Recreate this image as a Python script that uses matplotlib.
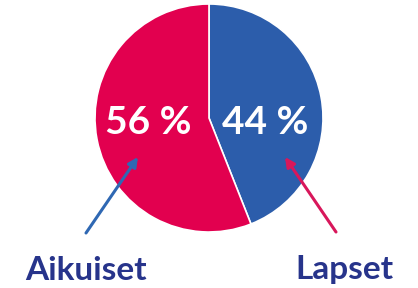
import matplotlib.pyplot as plt

# ─── DATA ────────────────────────────────────────────────────────────────────
labels  = ["Lapset", "Aikuiset"]
shares  = [44, 56]
colors  = ["#2C5DAB", "#E2004F"]
arrow_c = ["#D8175B", "#2F68B3"]

plt.rcParams["font.family"] = ["Lato", "DejaVu Sans"]

fig = plt.figure(figsize=(4.18, 2.88), dpi=100)
ax = fig.add_axes([0, 0, 1, 1])
ax.set_xlim(0, 418)
ax.set_ylim(0, 288)
ax.set_aspect("equal")
ax.axis("off")

# pie in pixel coords (y measured from bottom)
cx, cy, r = 209, 170, 114
ax.pie(shares, colors=colors, startangle=90, counterclock=False,
       center=(cx, cy), radius=r, frame=True,
       wedgeprops=dict(edgecolor="white", linewidth=1.2))
ax.set_xlim(0, 418)
ax.set_ylim(0, 288)
ax.axis("off")

# percentage labels
ax.text(265, 165, f"{shares[0]} %", color="white", fontsize=28,
        fontweight="bold", ha="center", va="center")
ax.text(148, 165, f"{shares[1]} %", color="white", fontsize=28,
        fontweight="bold", ha="center", va="center")

# arrows
ax.annotate("", xy=(285, 131), xytext=(336, 56),
            arrowprops=dict(arrowstyle="-|>", color=arrow_c[0], lw=2.2,
                            mutation_scale=14, shrinkA=0, shrinkB=0))
ax.annotate("", xy=(138, 131), xytext=(86, 55),
            arrowprops=dict(arrowstyle="-|>", color=arrow_c[1], lw=2.2,
                            mutation_scale=14, shrinkA=0, shrinkB=0))

# category labels
ax.text(344, 18, labels[0], color="#27348B", fontsize=24,
        fontweight="bold", ha="center", va="center")
ax.text(86, 18, labels[1], color="#27348B", fontsize=24,
        fontweight="bold", ha="center", va="center")

fig.savefig("out.png", dpi=100)
